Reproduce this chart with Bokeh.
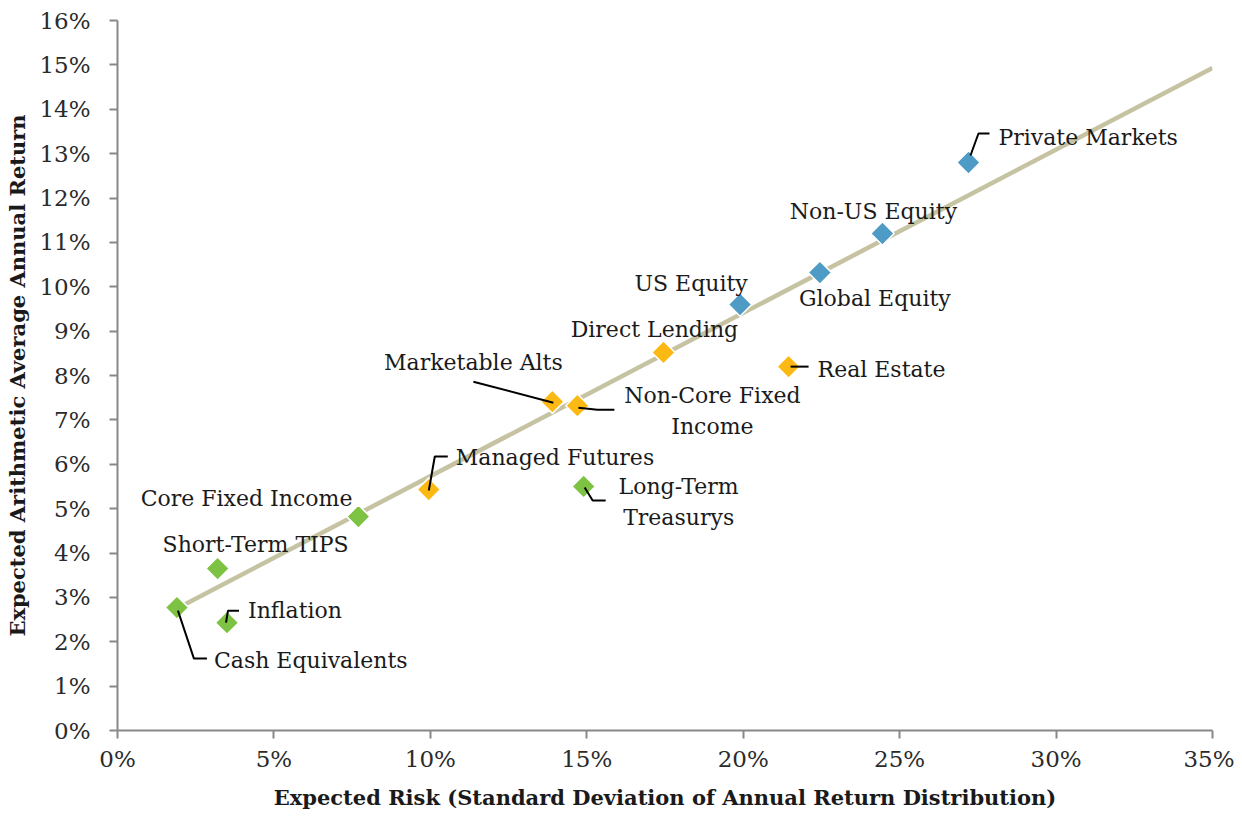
import numpy as np
from bokeh.plotting import figure
from bokeh.models import Range1d, FixedTicker, NumeralTickFormatter, ColumnDataSource
from bokeh.core.properties import value
from bokeh.embed import file_html
from bokeh.resources import INLINE

# ---------------- data ----------------
names = ["Cash Equivalents", "Short-Term TIPS", "Inflation", "Core Fixed Income",
         "Long-Term Treasurys", "Managed Futures", "Marketable Alts",
         "Non-Core Fixed Income", "Direct Lending", "Real Estate",
         "US Equity", "Global Equity", "Non-US Equity", "Private Markets"]
risk = [1.9, 3.2, 3.5, 7.7, 14.9, 9.95, 13.9, 14.7, 17.45, 21.45, 19.9, 22.45, 24.45, 27.2]
ret = [2.77, 3.65, 2.43, 4.82, 5.5, 5.43, 7.41, 7.32, 8.52, 8.2, 9.6, 10.32, 11.2, 12.8]
group = ["fi", "fi", "fi", "fi", "fi", "alt", "alt", "alt", "alt", "alt",
         "eq", "eq", "eq", "eq"]

line_risk = [1.9, 35.0]
line_ret = [2.75, 14.93]

x_ticks = [0, 5, 10, 15, 20, 25, 30, 35]
y_ticks = list(range(0, 17))

# ---------------- style / layout ----------------
colors = {"fi": "#7DC242", "alt": "#FDB913", "eq": "#4E9BC6"}
FONT = "DejaVu Serif"
FW, FH = 1095, 710
XS = 0.35 / FW
YS = 0.16 / FH

# label anchor offsets in px from point (dx right, dy up), alignment, lines
label_layout = {
    "Cash Equivalents": (37, -53, "left", ["Cash Equivalents"]),
    "Short-Term TIPS": (38, 24, "center", ["Short-Term TIPS"]),
    "Inflation": (21, 12, "left", ["Inflation"]),
    "Core Fixed Income": (-6, 18, "right", ["Core Fixed Income"]),
    "Long-Term Treasurys": (95, 0, "center", ["Long-Term", "Treasurys"]),
    "Managed Futures": (27, 32, "left", ["Managed Futures"]),
    "Marketable Alts": (-79, 39, "center", ["Marketable Alts"]),
    "Non-Core Fixed Income": (135, 10, "center", ["Non-Core Fixed", "Income"]),
    "Direct Lending": (-9, 23, "center", ["Direct Lending"]),
    "Real Estate": (29, -3, "left", ["Real Estate"]),
    "US Equity": (-49, 21, "center", ["US Equity"]),
    "Global Equity": (55, -26, "center", ["Global Equity"]),
    "Non-US Equity": (-9, 22, "center", ["Non-US Equity"]),
    "Private Markets": (30, 25, "left", ["Private Markets"]),
}
LINE_GAP = 31

leaders = {
    "Cash Equivalents": [(1, -3), (17, -51), (30, -51)],
    "Inflation": [(-1, 0), (1, 12), (12, 12)],
    "Managed Futures": [(0, -1), (6, 33), (19, 33)],
    "Marketable Alts": [(1, -1), (-79, 20)],
    "Non-Core Fixed Income": [(1, -2), (20, -4), (37, -4)],
    "Long-Term Treasurys": [(1, -1), (9, -14), (22, -14)],
    "Real Estate": [(2, 0), (20, 0)],
    "Private Markets": [(2, 7), (10, 29), (21, 29)],
}

xs = [r / 100 for r in risk]
ys = [r / 100 for r in ret]

p = figure(frame_width=FW, frame_height=FH, output_backend="svg", toolbar_location=None,
           x_range=Range1d(0, 0.35), y_range=Range1d(0, 0.16),
           min_border_left=117, min_border_right=22, min_border_top=20, min_border_bottom=70)
p.outline_line_color = None
p.xgrid.grid_line_color = None
p.ygrid.grid_line_color = None
p.background_fill_color = "white"
p.border_fill_color = "white"

for ax in (p.xaxis[0], p.yaxis[0]):
    ax.axis_line_color = "#888888"
    ax.axis_line_width = 2
    ax.major_tick_line_color = "#888888"
    ax.major_tick_line_width = 2
    ax.major_tick_out = 8
    ax.major_tick_in = 0
    ax.minor_tick_line_color = None
    ax.major_label_text_font = FONT
    ax.major_label_text_font_size = "23px"
    ax.major_label_text_color = "#2b2b2b"
    ax.axis_label_text_font = FONT
    ax.axis_label_text_font_style = "bold"
    ax.axis_label_text_font_size = "21px"
    ax.axis_label_text_color = "#1a1a1a"
    ax.formatter = NumeralTickFormatter(format="0%")

p.xaxis.ticker = FixedTicker(ticks=[t / 100 for t in x_ticks])
p.yaxis.ticker = FixedTicker(ticks=[t / 100 for t in y_ticks])
p.xaxis.axis_label = "Expected Risk (Standard Deviation of Annual Return Distribution)"
p.yaxis.axis_label = "Expected Arithmetic Average Annual Return"
p.xaxis.major_label_standoff = 7
p.yaxis.major_label_standoff = 19
p.xaxis.axis_label_standoff = 10
p.yaxis.axis_label_standoff = 6

# trend line
p.line([v / 100 for v in line_risk], [v / 100 for v in line_ret],
       line_color="#C6C3A3", line_width=4.5)

# markers
src = ColumnDataSource(dict(x=xs, y=ys, c=[colors[g] for g in group]))
p.scatter("x", "y", source=src, marker="square", angle=np.pi / 4, size=16.5,
          fill_color="c", line_color="white", line_width=1.5)

# leaders
lx, ly = [], []
for n, pts in leaders.items():
    i = names.index(n)
    lx.append([xs[i] + dx * XS for dx, dy in pts])
    ly.append([ys[i] + dy * YS for dx, dy in pts])
p.multi_line(lx, ly, line_color="black", line_width=2)

# labels
for align in ("left", "center", "right"):
    tx, ty, tt = [], [], []
    for n in names:
        dx, dy, a, lines = label_layout[n]
        if a != align:
            continue
        i = names.index(n)
        for k, s in enumerate(lines):
            tx.append(xs[i] + dx * XS)
            ty.append(ys[i] + (dy - k * LINE_GAP) * YS)
            tt.append(s)
    if tx:
        p.text(tx, ty, text=tt, text_align=align, text_baseline="middle",
               text_font=value(FONT), text_font_size="22px", text_color="#1a1a1a")

open("out.html", "w").write(file_html(p, INLINE))
